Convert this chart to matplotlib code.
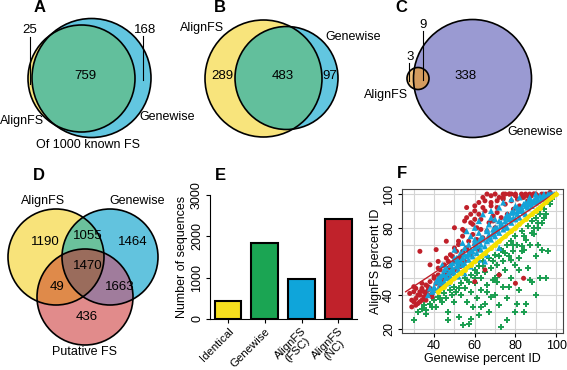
import numpy as np
import matplotlib
matplotlib.use("Agg")
import matplotlib.pyplot as plt
import matplotlib.transforms as mtransforms
from matplotlib.patches import Circle, Polygon

plt.rcParams['font.family'] = ['Liberation Sans', 'DejaVu Sans']
plt.rcParams['font.size'] = 9

# ---- data ----
# A: 1000 known frameshifts -> AlignFS only, both, Genewise only
a_counts = [25, 759, 168]
# B: AlignFS only, both, Genewise only
b_counts = [289, 483, 97]
# C: AlignFS only, both, Genewise only
c_counts = [3, 9, 338]
# D: AlignFS / Genewise / Putative FS regions
d_names = ['AlignFS', 'Genewise', 'Putative FS']
d_counts = [1190, 1055, 1464, 1470, 49, 1663, 436]   # A, AG, G, AGP, AP, GP, P

# E: number of sequences
e_cats = ['Identical', 'Genewise', 'AlignFS\n(FSC)', 'AlignFS\n(NC)']
e_vals = [440, 1840, 975, 2410]
e_colors = ['#f6e01e', '#1ba553', '#0fa5da', '#c0222b']

# F: percent identity, Genewise (x) vs AlignFS (y)
red_x = [29, 30, 31, 32, 33, 33, 34, 35, 35, 36, 37, 38, 38, 40, 40, 41, 42, 43, 43, 44,
         45, 45, 46, 47, 47, 48, 49, 50, 50, 51, 52, 52, 53, 54, 54, 55, 55, 56, 57, 58,
         58, 59, 60, 60, 61, 62, 62, 63, 64, 64, 65, 66, 66, 67, 68, 69, 70, 70, 71, 72,
         73, 74, 75, 76, 77, 78, 79, 80, 81, 82, 83, 84, 85, 86, 87, 88, 89, 90, 91, 93,
         95, 97, 33, 41, 38, 46, 50, 56, 60, 42, 68, 75, 64, 65, 72, 80, 84, 60, 30, 32,
         34, 36, 28, 31, 39, 37, 44, 48, 53, 57, 61, 63, 69, 71, 74, 78, 55, 59, 52, 47,
         29, 31, 33, 35, 37, 39, 30, 34, 36, 40, 42, 44, 46, 48, 50, 52, 54, 56, 58, 60,
         62, 65, 68, 71, 74, 77, 80, 83, 86, 89]
red_y = [33, 42, 38, 35, 40, 36, 44, 38, 42, 46, 40, 48, 44, 43, 50, 47, 52, 45, 55, 49,
         58, 52, 54, 60, 50, 57, 63, 55, 60, 66, 58, 70, 62, 75, 66, 60, 84, 68, 72, 88,
         64, 76, 70, 93, 80, 67, 95, 85, 74, 98, 90, 78, 100, 83, 95, 87, 80, 100, 92, 98,
         86, 100, 94, 88, 100, 96, 91, 100, 97, 93, 100, 98, 100, 96, 100, 99, 100, 100, 99, 100,
         100, 101, 66, 67, 58, 72, 80, 92, 85, 60, 93, 100, 92, 55, 52, 47, 50, 48, 36, 40,
         37, 41, 41, 44, 39, 43, 46, 53, 57, 66, 73, 79, 84, 89, 97, 100, 78, 82, 62, 56,
         37, 34, 42, 39, 45, 41, 45, 47, 37, 51, 56, 48, 62, 64, 68, 72, 79, 86, 83, 90,
         88, 96, 99, 96, 98, 100, 99, 98, 99, 100]

blue_x = [37, 38, 39, 40, 41, 42, 42, 43, 44, 45, 45, 46, 47, 48, 48, 49, 50, 50, 51, 52,
          52, 53, 54, 54, 55, 55, 56, 57, 57, 58, 58, 59, 60, 60, 61, 62, 62, 63, 64, 64,
          65, 66, 66, 67, 68, 68, 69, 70, 70, 71, 72, 72, 73, 74, 74, 75, 76, 76, 77, 78,
          78, 79, 80, 80, 81, 82, 82, 83, 84, 85, 85, 86, 87, 88, 89, 90, 90, 91, 92, 93,
          94, 95, 96, 97, 98, 99, 58, 62, 66, 47, 52, 56, 60, 44, 50, 54, 65, 72, 55, 63,
          67, 71, 75, 79, 83, 87, 59, 61, 69, 73, 77, 81, 53, 57, 46, 49, 51, 43, 86, 88,
          40, 43, 46, 49, 52, 55, 58, 61, 64, 67, 70, 73, 76, 79, 82, 85, 88, 91, 94, 97,
          45, 51, 57, 63, 69, 75, 81, 87, 93, 48, 54, 60, 66, 72, 78, 84, 90, 96, 62, 68]
blue_y = [40, 44, 42, 45, 48, 44, 50, 47, 52, 48, 55, 50, 53, 58, 51, 55, 53, 62, 57, 60,
          55, 65, 58, 62, 68, 59, 63, 70, 61, 66, 75, 63, 68, 80, 65, 72, 84, 67, 74, 88,
          69, 78, 72, 82, 73, 90, 77, 75, 85, 80, 77, 92, 83, 79, 95, 81, 88, 80, 85, 83,
          97, 90, 85, 93, 88, 86, 98, 92, 89, 95, 88, 92, 98, 93, 96, 95, 100, 97, 99, 97,
          100, 98, 100, 99, 100, 100, 57, 61, 64, 47, 51, 78, 73, 58, 67, 71, 60, 68, 53, 70,
          74, 78, 84, 86, 90, 94, 66, 70, 79, 81, 87, 90, 60, 64, 56, 59, 62, 51, 95, 96,
          43, 49, 51, 56, 58, 64, 67, 69, 73, 76, 80, 82, 86, 89, 91, 93, 95, 96, 98, 100,
          52, 60, 65, 74, 76, 86, 92, 97, 98, 54, 65, 71, 79, 84, 89, 94, 98, 99, 77, 86]

green_x = [30, 32, 34, 35, 36, 38, 40, 41, 42, 44, 45, 46, 47, 48, 49, 50, 50, 51, 52, 53,
           53, 54, 55, 55, 56, 57, 57, 58, 58, 59, 60, 60, 61, 62, 62, 63, 63, 64, 65, 65,
           66, 67, 67, 68, 69, 70, 70, 71, 72, 72, 73, 74, 74, 75, 76, 76, 77, 78, 78, 79,
           80, 80, 80, 81, 82, 82, 83, 84, 84, 85, 86, 86, 87, 88, 88, 89, 90, 90, 91, 92,
           92, 93, 94, 95, 96, 97, 98, 99, 85, 76, 73, 58, 47, 90, 95, 87, 68, 63, 82, 91,
           70, 60, 75, 77, 83, 89, 93, 71, 66, 81, 36, 39, 43, 52, 56, 61, 64, 69, 74, 79,
           84, 88, 91, 94, 78, 83, 72]
green_y = [25, 30, 32, 34, 31, 35, 37, 33, 39, 36, 41, 38, 30, 43, 40, 36, 45, 42, 27, 47,
           40, 22, 50, 44, 36, 48, 23, 52, 42, 33, 55, 47, 38, 57, 28, 50, 43, 60, 54, 35,
           46, 62, 30, 56, 49, 64, 40, 58, 52, 34, 67, 60, 45, 55, 70, 38, 63, 50, 72, 66,
           58, 75, 30, 70, 62, 43, 78, 67, 30, 73, 56, 81, 70, 48, 84, 76, 63, 86, 80, 50,
           88, 83, 91, 88, 66, 94, 97, 99, 35, 25, 21, 26, 25, 40, 50, 49, 39, 33, 55, 70,
           50, 50, 65, 45, 66, 80, 67, 48, 42, 35, 29, 33, 38, 44, 49, 53, 57, 60, 66, 70,
           75, 77, 83, 86, 61, 69, 63]

yellow_x = [42, 45, 48, 50, 53, 55, 58, 60, 63, 65, 68, 70, 72, 75, 78, 80, 82, 85, 88,
            90, 92, 95, 98, 100]
yellow_y = [42, 45, 48, 50, 53, 55, 58, 60, 63, 65, 68, 70, 72, 75, 78, 80, 82, 85, 88,
            90, 92, 95, 98, 100]
fit_x = [26, 100]
fit_y = [42, 101]


def lens(circles, n=720):
    # outline of the region shared by several discs
    pts = []
    for k, (cx, cy, r) in enumerate(circles):
        t = np.linspace(0, 2 * np.pi, n, endpoint=False)
        xs, ys = cx + r * np.cos(t), cy + r * np.sin(t)
        ok = np.ones(n, bool)
        for j, (ox, oy, orr) in enumerate(circles):
            if j != k:
                ok &= (xs - ox) ** 2 + (ys - oy) ** 2 <= orr ** 2 + 1e-6
        pts.append(np.c_[xs[ok], ys[ok]])
    pts = np.vstack(pts)
    m = pts.mean(axis=0)
    return pts[np.argsort(np.arctan2(pts[:, 1] - m[1], pts[:, 0] - m[0]))]


def venn(ax, circles, colors, overlaps):
    for c, col in zip(circles, colors):
        ax.add_patch(Circle(c[:2], c[2], fc=col, ec='none'))
    for idx, col in overlaps:
        ax.add_patch(Polygon(lens([circles[i] for i in idx]), closed=True, fc=col, ec='none'))
    for c in circles:
        ax.add_patch(Circle(c[:2], c[2], fill=False, ec='black', lw=1.2))


fig = plt.figure(figsize=(5.67, 3.70), dpi=100)
ax0 = fig.add_axes([0, 0, 1, 1])
ax0.set_xlim(0, 567)
ax0.set_ylim(370, 0)
ax0.axis('off')

yel, blu, grn = '#f8e47c', '#62c6e0', '#62bf9c'
nfs = 9.5

# ---- A ----
venn(ax0, [(81.5, 78.5, 53.5), (91.5, 78, 59.5)], [yel, blu], [((0, 1), grn)])
ax0.text(85, 76, str(a_counts[1]), ha='center', va='center', fontsize=nfs)
ax0.text(30, 30, str(a_counts[0]), ha='center', va='center', fontsize=nfs)
ax0.plot([30, 30], [37, 84], color='black', lw=0.8)
ax0.text(145, 30, str(a_counts[2]), ha='center', va='center', fontsize=nfs)
ax0.plot([143, 143], [36, 80], color='black', lw=0.8)
ax0.text(22, 121, 'AlignFS', ha='center', va='center')
ax0.text(167, 117, 'Genewise', ha='center', va='center')
ax0.text(88, 145, 'Of 1000 known FS', ha='center', va='center')

# ---- B ----
venn(ax0, [(263.5, 78.5, 58.5), (286.5, 78, 51.5)], [yel, blu], [((0, 1), grn)])
ax0.text(222, 76, str(b_counts[0]), ha='center', va='center', fontsize=nfs)
ax0.text(283, 76, str(b_counts[1]), ha='center', va='center', fontsize=nfs)
ax0.text(330, 76, str(b_counts[2]), ha='center', va='center', fontsize=nfs)
ax0.text(202, 28, 'AlignFS', ha='center', va='center')
ax0.text(353, 37, 'Genewise', ha='center', va='center')

# ---- C ----
venn(ax0, [(472.5, 78.5, 59), (418, 78.5, 11)], ['#9a9ad2', '#f0c27e'], [((0, 1), '#d39c5e')])
ax0.text(466, 76, str(c_counts[2]), ha='center', va='center', fontsize=nfs)
ax0.text(423, 25, str(c_counts[1]), ha='center', va='center', fontsize=nfs)
ax0.plot([423, 423], [31, 80], color='black', lw=0.8)
ax0.text(410, 57, str(c_counts[0]), ha='center', va='center', fontsize=nfs)
ax0.plot([409, 409], [63, 81], color='black', lw=0.8)
ax0.text(408, 95, 'AlignFS', ha='right', va='center')
ax0.text(535, 132, 'Genewise', ha='center', va='center')

# ---- D ----
d_circ = [(56, 257, 48), (110, 257, 48), (85, 297, 48)]
venn(ax0, d_circ, ['#f8e37a', '#62c3de', '#e18b8b'],
     [((0, 1), '#6bc19c'), ((0, 2), '#df8a4a'), ((1, 2), '#a07c9c'), ((0, 1, 2), '#9a6c5c')])
d_pos = [(45, 242), (88, 236), (133, 242), (88, 266), (57, 287), (120, 287), (87, 317)]
for (x, y), v in zip(d_pos, d_counts):
    ax0.text(x, y, str(v), ha='center', va='center', fontsize=nfs)
ax0.text(43, 201, d_names[0], ha='center', va='center')
ax0.text(137, 201, d_names[1], ha='center', va='center')
ax0.text(85, 352, d_names[2], ha='center', va='center')

# panel letters
for lab, x, y in [('A', 40, 8), ('B', 220, 8), ('C', 401, 8),
                  ('D', 39, 175), ('E', 220, 175), ('F', 402, 173)]:
    ax0.text(x, y, lab, ha='center', va='center', fontsize=12, fontweight='bold')

# ---- E ----
axE = fig.add_axes([210 / 567, 51 / 370, 147 / 567, 124 / 370])
xs = np.arange(len(e_vals))
axE.bar(xs, e_vals, width=0.73, color=e_colors, edgecolor='black', linewidth=1.5)
axE.set_xlim(-0.49, 3.51)
axE.set_ylim(0, 3000)
axE.set_yticks([0, 1000, 2000, 3000])
axE.set_yticklabels(['0', '1000', '2000', '3000'], rotation=90, va='center')
axE.set_xticks(xs)
axE.set_xticklabels(e_cats, rotation=45, ha='right', rotation_mode='anchor',
                    multialignment='center', linespacing=0.85, fontsize=8.2)
shift = mtransforms.ScaledTranslation(3 / 100, 5 / 100, fig.dpi_scale_trans)
for t in axE.get_xticklabels():
    t.set_transform(t.get_transform() + shift)
axE.set_ylabel('Number of sequences', labelpad=2)
axE.spines['top'].set_visible(False)
axE.spines['right'].set_visible(False)
axE.tick_params(length=3, pad=2)

# ---- F ----
axF = fig.add_axes([402 / 567, 37 / 370, 161 / 567, 144 / 370])
axF.set_xlim(24.2, 103.4)
axF.set_ylim(17.5, 103)
axF.set_xticks([40, 60, 80, 100])
axF.set_yticks([20, 40, 60, 80, 100])
axF.set_xticks(np.arange(30, 101, 10), minor=True)
axF.set_yticks(np.arange(20, 101, 10), minor=True)
axF.grid(True, which='both', color='#d4d4d4', lw=0.8)
axF.set_axisbelow(True)
axF.tick_params(which='minor', length=0)
axF.tick_params(length=3, pad=2)
for t in axF.get_yticklabels():
    t.set_rotation(90)
    t.set_va('center')
axF.scatter(green_x, green_y, marker='+', s=24, color='#1a9e50', linewidths=1.4, zorder=3)
axF.scatter(red_x, red_y, marker='o', s=13, color='#c0202a', edgecolors='none', zorder=4)
axF.scatter(blue_x, blue_y, marker='^', s=20, color='#14a3d8', edgecolors='none', zorder=5)
axF.plot(fit_x, fit_y, color='#c0202a', lw=1.0, zorder=5)
axF.plot(yellow_x, yellow_y, color='#f5e000', lw=3, marker='o', ms=2.5, zorder=6)
axF.set_xlabel('Genewise percent ID', labelpad=1)
axF.set_ylabel('AlignFS percent ID', labelpad=1)
for s in axF.spines.values():
    s.set_color('#444444')
    s.set_linewidth(0.8)

fig.savefig('out.png', dpi=100)
